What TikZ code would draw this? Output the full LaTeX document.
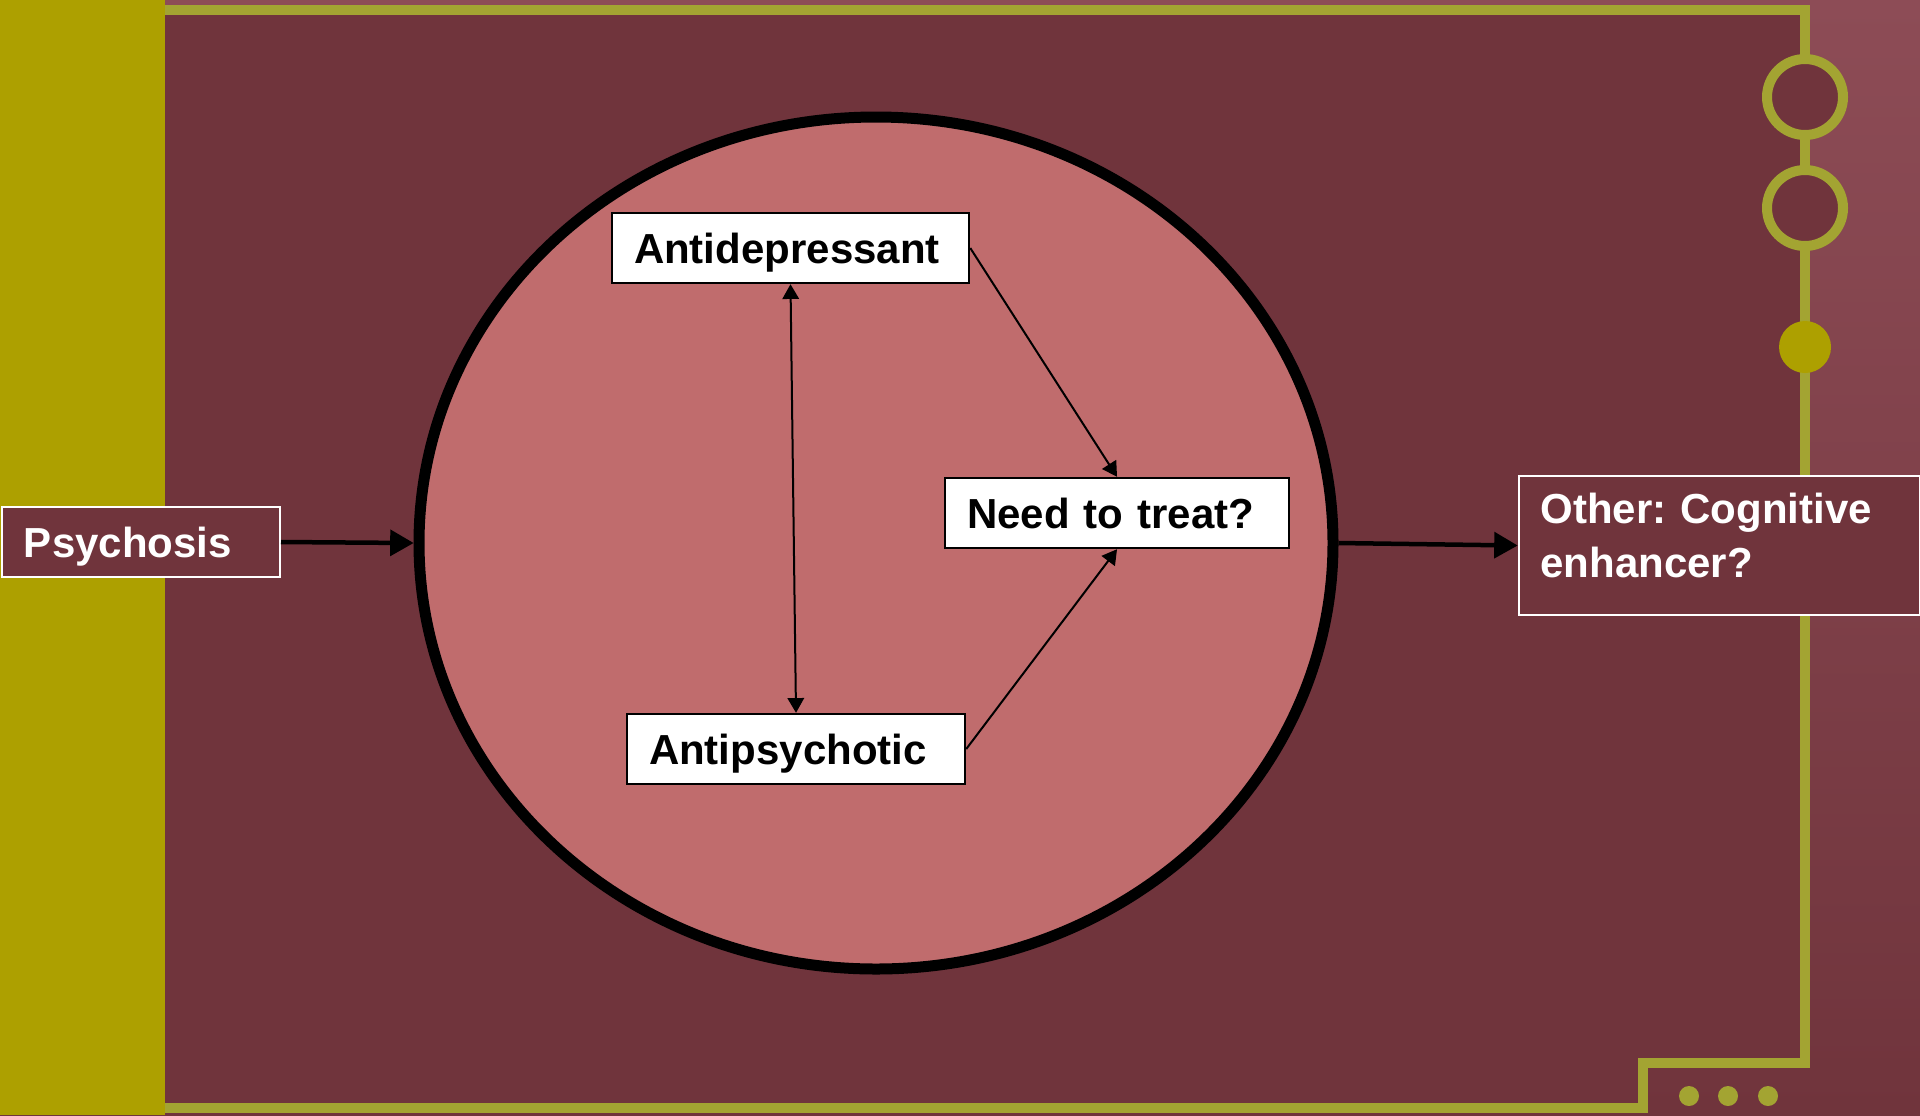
\documentclass[tikz,border=0pt]{standalone}
\usepackage{fontspec}
\setmainfont{Liberation Sans}
\usetikzlibrary{arrows, shapes.geometric}
\usepackage{xcolor}
\frenchspacing

\definecolor{bgred}{HTML}{70343C}
\definecolor{glowred}{HTML}{8D4C56}
\definecolor{discred}{HTML}{C06C6D}
\definecolor{mustard}{HTML}{ADA000}
\definecolor{olive}{HTML}{A3A432}

\tikzset{
	whitebox/.style={draw=black, fill=white, text=black, line width=1.25pt,
		font=\fontsize{21}{27}\selectfont\bfseries, align=left,
		inner xsep=11pt, inner ysep=0pt, minimum height=35pt,
		text height=15pt, text depth=0pt, text width=#1},
	darkbox/.style={whitebox=#1, draw=white, fill=bgred, text=white, line width=1pt},
	frameline/.style={draw=olive, line width=5pt},
	bigarrow/.style={-triangle 60, line width=2.25pt},
	smallarrow/.style={-triangle 60, line width=1pt},
}

\begin{document}
\begin{tikzpicture}[x=0.5pt, y=-0.5pt]
	\useasboundingbox (0,0) rectangle (1920,1115);
	\shade[top color=glowred, bottom color=bgred] (0,0) rectangle (1920,1115);
	\fill[bgred] (165,10) -- (1805,10) -- (1805,1063) -- (1643,1063) -- (1643,1115) -- (165,1115) -- cycle;
	\fill[mustard] (0,0) rectangle (165,1115);
	\draw[frameline] (165,10) -- (1805,10) -- (1805,1063) -- (1643,1063) -- (1643,1108) -- (165,1108);
	\draw[frameline, fill=bgred] (1805,97) circle (38);
	\draw[frameline, fill=bgred] (1805,208) circle (38);
	\fill[mustard] (1805,347) circle (26);
	\foreach \x in {1689,1728,1768}
		\fill[olive] (\x,1096) circle (10);

	\node (circ) at (876,543) [ellipse, draw=black, fill=discred, line width=5.5pt,
		inner sep=0pt, minimum width=457pt, minimum height=426pt] {};

	\node (antid) at (790.5,248) [whitebox=156.5pt] {Antidepressant};
	\node (antip) at (796,749) [whitebox=147pt] {Antipsychotic};
	\node (need) at (1117,513) [whitebox=150pt] {Need to treat?};
	\node (psy) at (141,542) [darkbox=117pt] {Psychosis};
	\node (other) at (1719,545.5) [darkbox=178.5pt, minimum height=69.5pt, text depth=37.5pt]
		{Other: Cognitive\\enhancer?};

	\draw [bigarrow] (psy.east) -- (circ.west);
	\draw [bigarrow] (circ.east) -- (other.west);
	\draw [smallarrow, triangle 60-triangle 60] (antid.south) -- (antip.north);
	\draw [smallarrow] (antid.east) -- (need.north);
	\draw [smallarrow] (antip.east) -- (need.south);
\end{tikzpicture}
\end{document}
